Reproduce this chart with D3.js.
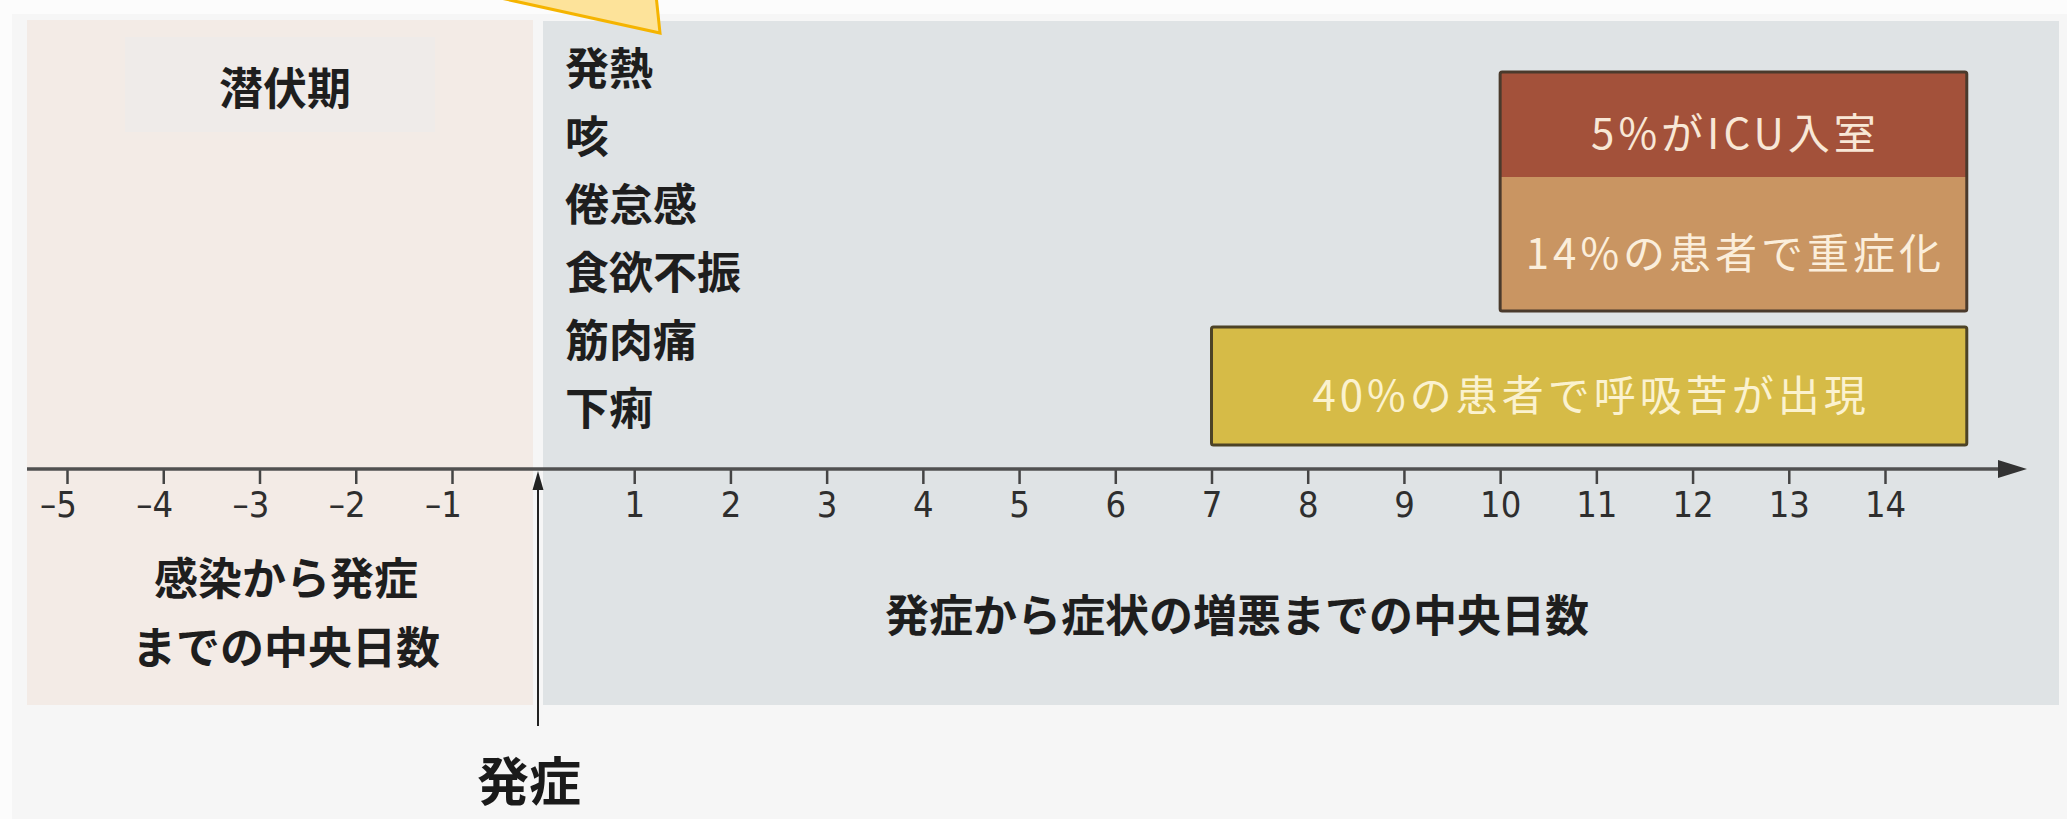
<!DOCTYPE html>
<html><head><meta charset="utf-8">
<script src="https://cdn.jsdelivr.net/npm/d3@7"></script>
<style>
html,body{margin:0;padding:0;background:#f7f7f7;}
svg{display:block;}
</style></head>
<body>
<svg id="chart" width="2067" height="819"></svg>
<script>
// ---- data ----
const dayTicks = [-5, -4, -3, -2, -1, 1, 2, 3, 4, 5, 6, 7, 8, 9, 10, 11, 12, 13, 14];
const symptoms = ["発熱", "咳", "倦怠感", "食欲不振", "筋肉痛", "下痢"];
const boxLabels = ["40%の患者で呼吸苦が出現", "14%の患者で重症化", "5%がICU入室"];
const boxStart = [7, 10, 10];
const boxEnd = [14.85, 14.85, 14.85];
const incubationTitle = "潜伏期";
const leftCaption = ["感染から発症", "までの中央日数"];
const rightCaption = "発症から症状の増悪までの中央日数";
const onsetLabel = "発症";

// ---- layout ----
const W = 2067, H = 819;
const svg = d3.select("#chart");
const cjk = "'Noto Sans CJK JP','Noto Sans CJK SC',sans-serif";
const axisY = 469;

const x = d3.scaleLinear().domain([-5, -1, 0, 14]).range([67, 452, 538, 1885]);
const ySym = d3.scalePoint().domain(symptoms).range([68, 408]);

// page background accents
svg.append("rect").attr("x", 0).attr("y", 0).attr("width", W).attr("height", H).attr("fill", "#f6f6f6");
svg.append("rect").attr("x", 0).attr("y", 0).attr("width", W).attr("height", 14).attr("fill", "#fcfcfc");
svg.append("rect").attr("x", 0).attr("y", 0).attr("width", 12).attr("height", H).attr("fill", "#fcfcfc");

// panels
svg.append("rect").attr("x", 27).attr("y", 20).attr("width", 533 - 27).attr("height", 705 - 20).attr("fill", "#f3ebe6");
svg.append("rect").attr("x", 125).attr("y", 37).attr("width", 310).attr("height", 95).attr("fill", "#efebe9");
svg.append("rect").attr("x", 543).attr("y", 21).attr("width", 2059 - 543).attr("height", 705 - 21).attr("fill", "#dfe3e5");

// callout triangle at the top
svg.append("polygon")
  .attr("points", "487,-5 656,-5 660,33")
  .attr("fill", "#fde39a").attr("stroke", "#f5b400").attr("stroke-width", 3).attr("stroke-linejoin", "miter");

// incubation title
svg.append("text").attr("x", 285).attr("y", 86)
  .attr("text-anchor", "middle").attr("dominant-baseline", "central")
  .attr("font-family", cjk).attr("font-weight", 700).attr("font-size", 44).attr("fill", "#1e1e1e")
  .text(incubationTitle);

// symptom list
svg.append("g").selectAll("text").data(symptoms).join("text")
  .attr("x", 565).attr("y", d => ySym(d) - 2)
  .attr("dominant-baseline", "central")
  .attr("font-family", cjk).attr("font-weight", 700).attr("font-size", 44).attr("fill", "#1e1e1e")
  .text(d => d);

// severity boxes
const tiers = [[327, 445], [177, 311], [72, 177]];
const fills = ["#d6bb47", "#c99562", "#a3513a"];
const textFills = ["#fbf2cf", "#fbeedb", "#f8e7d6"];
const boxes = boxLabels.map((l, i) => ({label: l, s: boxStart[i], e: boxEnd[i], t: tiers[i], f: fills[i], tf: textFills[i]}));

const bg = svg.append("g");
bg.selectAll("rect.fill").data(boxes).join("rect").attr("class", "fill")
  .attr("x", d => x(d.s)).attr("y", d => d.t[0])
  .attr("width", d => x(d.e) - x(d.s)).attr("height", d => d.t[1] - d.t[0])
  .attr("fill", d => d.f);
// outlines: the yellow box alone, the two upper tiers together
bg.append("rect")
  .attr("x", x(boxes[0].s)).attr("y", boxes[0].t[0])
  .attr("width", x(boxes[0].e) - x(boxes[0].s)).attr("height", boxes[0].t[1] - boxes[0].t[0])
  .attr("fill", "none").attr("stroke", "#4d4326").attr("stroke-width", 3).attr("rx", 2);
bg.append("rect")
  .attr("x", x(boxes[1].s)).attr("y", boxes[2].t[0])
  .attr("width", x(boxes[1].e) - x(boxes[1].s)).attr("height", boxes[1].t[1] - boxes[2].t[0])
  .attr("fill", "none").attr("stroke", "#4a3a2c").attr("stroke-width", 3).attr("rx", 2);
bg.selectAll("text").data(boxes).join("text")
  .attr("x", d => (x(d.s) + x(d.e)) / 2 + 2)
  .attr("y", d => (d.t[0] + d.t[1]) / 2 + 6)
  .attr("text-anchor", "middle").attr("dominant-baseline", "central")
  .attr("font-family", cjk).attr("font-weight", 400).attr("font-size", 42)
  .attr("letter-spacing", 4).attr("fill", d => d.tf)
  .text(d => d.label);

// axis
const axis = d3.axisBottom(x).tickValues(dayTicks).tickSize(15).tickPadding(7)
  .tickFormat(d => d < 0 ? "–" + Math.abs(d) : String(d));
const ag = svg.append("g").attr("transform", `translate(0,${axisY})`).call(axis);
ag.select(".domain").remove();
ag.selectAll(".tick line").attr("stroke", "#444").attr("stroke-width", 2.5);
ag.selectAll(".tick text")
  .attr("font-family", "'Liberation Sans Narrow','DejaVu Sans Condensed',sans-serif")
  .attr("font-size", 36).attr("fill", "#2e2e2e")
  .attr("dx", d => d < 0 ? -9 : 0);

// main axis line with arrow
svg.append("line").attr("x1", 27).attr("x2", 2000).attr("y1", axisY).attr("y2", axisY)
  .attr("stroke", "#505050").attr("stroke-width", 3.5);
svg.append("polygon")
  .attr("points", `1998,${axisY - 9} 2027,${axisY} 1998,${axisY + 9}`)
  .attr("fill", "#333");

// onset arrow
const x0 = x(0);
svg.append("line").attr("x1", x0).attr("x2", x0).attr("y1", 726).attr("y2", 488)
  .attr("stroke", "#222").attr("stroke-width", 2);
svg.append("polygon")
  .attr("points", `${x0 - 5.5},490 ${x0},471 ${x0 + 5.5},490`)
  .attr("fill", "#222");

// captions
svg.append("g").selectAll("text").data(leftCaption).join("text")
  .attr("x", 286).attr("y", (d, i) => 576 + i * 69)
  .attr("text-anchor", "middle").attr("dominant-baseline", "central")
  .attr("font-family", cjk).attr("font-weight", 700).attr("font-size", 44).attr("fill", "#1e1e1e")
  .text(d => d);
svg.append("text").attr("x", 1237).attr("y", 613)
  .attr("text-anchor", "middle").attr("dominant-baseline", "central")
  .attr("font-family", cjk).attr("font-weight", 700).attr("font-size", 44).attr("fill", "#1e1e1e")
  .text(rightCaption);
svg.append("text").attr("x", 529).attr("y", 778)
  .attr("text-anchor", "middle").attr("dominant-baseline", "central")
  .attr("font-family", cjk).attr("font-weight", 700).attr("font-size", 52).attr("fill", "#1a1a1a")
  .text(onsetLabel);
</script>
</body></html>
